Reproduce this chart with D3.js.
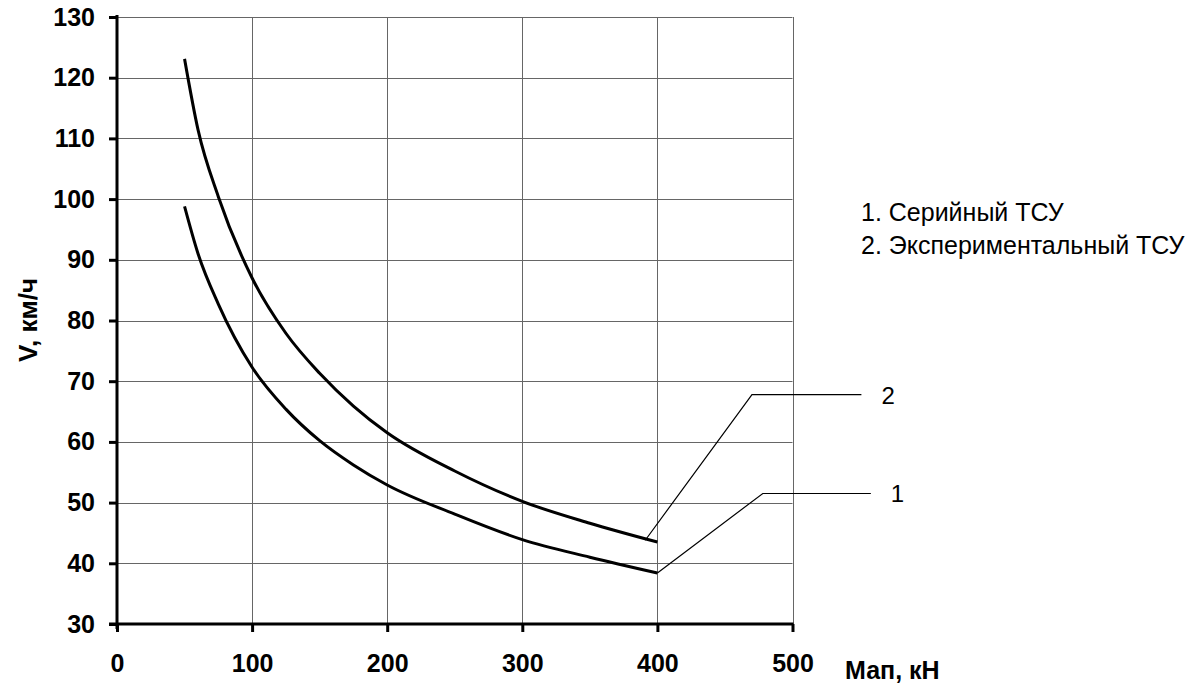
<!DOCTYPE html>
<html>
<head>
<meta charset="utf-8">
<script src="https://cdn.jsdelivr.net/npm/d3@7"></script>
<style>
  html, body { margin: 0; padding: 0; background: #fff; }
  svg { display: block; font-family: "Liberation Sans", Arial, sans-serif; }
</style>
</head>
<body>
<svg id="chart" width="1201" height="684"></svg>
<script>
// Data
const loadKN = [50, 60, 75, 100, 125, 150, 175, 200, 250, 300, 350, 400];
const speedSerial = [98.8, 91.0, 82.7, 72.3, 65.4, 60.2, 56.2, 52.9, 48.1, 43.9, 41.0, 38.4];
const speedExperimental = [123.1, 111.4, 100.4, 87.0, 77.9, 71.3, 65.9, 61.5, 55.2, 50.2, 46.6, 43.5];
const xTicks = [0, 100, 200, 300, 400, 500];
const yTicks = [30, 40, 50, 60, 70, 80, 90, 100, 110, 120, 130];
const legendItems = ["1. Серийный ТСУ", "2. Экспериментальный ТСУ"];
const seriesLabels = ["1", "2"];
// leader-line anchors in data units: [start, kink, end]
const leader1 = [[400, 38.4], [478, 51.5], [558, 51.5]];
const leader2 = [[391, 43.8], [470, 67.8], [551, 67.8]];

const svg = d3.select("#chart");
const x = d3.scaleLinear().domain([0, 500]).range([117, 792.5]);
const y = d3.scaleLinear().domain([30, 130]).range([624, 17]);

// grid
const grid = svg.append("g");
grid.selectAll("line.h").data(yTicks).enter().append("line")
  .attr("x1", x(0)).attr("x2", x(500))
  .attr("y1", d => Math.round(y(d)) + 0.5).attr("y2", d => Math.round(y(d)) + 0.5)
  .attr("stroke", "#666").attr("stroke-width", 1);
grid.selectAll("line.v").data(xTicks.slice(1)).enter().append("line")
  .attr("y1", y(30)).attr("y2", y(130))
  .attr("x1", d => Math.round(x(d)) + 0.5).attr("x2", d => Math.round(x(d)) + 0.5)
  .attr("stroke", "#666").attr("stroke-width", 1);

const FONT = "'Liberation Sans', Arial, sans-serif";

// axes
const yAxis = d3.axisLeft(y).tickValues(yTicks).tickSize(8).tickPadding(14);
const gy = svg.append("g").attr("transform", `translate(${x(0)},0)`).call(yAxis);
gy.select(".domain").attr("stroke", "#000").attr("stroke-width", 3).attr("d", `M0,${y(30)+5}V${y(130)-2}`);
gy.selectAll(".tick line").attr("stroke", "#000").attr("stroke-width", 3);
gy.selectAll(".tick text").attr("font-size", 25).attr("font-weight", "bold").attr("fill", "#000")
  .attr("font-family", FONT);

const xAxis = d3.axisBottom(x).tickValues(xTicks).tickSize(8).tickPadding(22);
const gx = svg.append("g").attr("transform", `translate(0,${y(30)})`).call(xAxis);
gx.select(".domain").attr("stroke", "#000").attr("stroke-width", 3).attr("d", `M${x(0)-8},0H${x(500)+1}`);
gx.selectAll(".tick line").attr("stroke", "#000").attr("stroke-width", 3);
gx.selectAll(".tick text").attr("font-size", 25).attr("font-weight", "bold").attr("fill", "#000")
  .attr("font-family", FONT);

// axis titles
svg.append("text").attr("transform", `translate(37,320) rotate(-90)`)
  .attr("text-anchor", "middle").attr("font-size", 26).attr("font-weight", "bold")
  .attr("font-family", FONT).text("V, км/ч");
svg.append("text").attr("x", 845).attr("y", 679)
  .attr("font-size", 25).attr("font-weight", "bold").attr("font-family", FONT)
  .text("Мап, кН");

// curves
const line = d3.line().x(d => x(d[0])).y(d => y(d[1])).curve(d3.curveMonotoneX);
[speedSerial, speedExperimental].forEach(vals => {
  svg.append("path").datum(loadKN.map((k, i) => [k, vals[i]]))
    .attr("d", line).attr("fill", "none").attr("stroke", "#000").attr("stroke-width", 3);
});

// leader lines and labels
const straight = d3.line().x(d => x(d[0])).y(d => y(d[1]));
[leader1, leader2].forEach((pts, i) => {
  svg.append("path").attr("d", straight(pts)).attr("fill", "none")
    .attr("stroke", "#000").attr("stroke-width", 1.2);
  const end = pts[pts.length - 1];
  svg.append("text").attr("x", x(end[0]) + 20).attr("y", y(end[1]) + 9)
    .attr("font-size", 24).attr("font-family", FONT).text(seriesLabels[i]);
});

// legend
svg.selectAll("text.legend").data(legendItems).enter().append("text")
  .attr("class", "legend")
  .attr("x", 861).attr("y", (d, i) => 221 + i * 33)
  .attr("font-size", 25).attr("font-family", FONT).text(d => d);
</script>
</body>
</html>
